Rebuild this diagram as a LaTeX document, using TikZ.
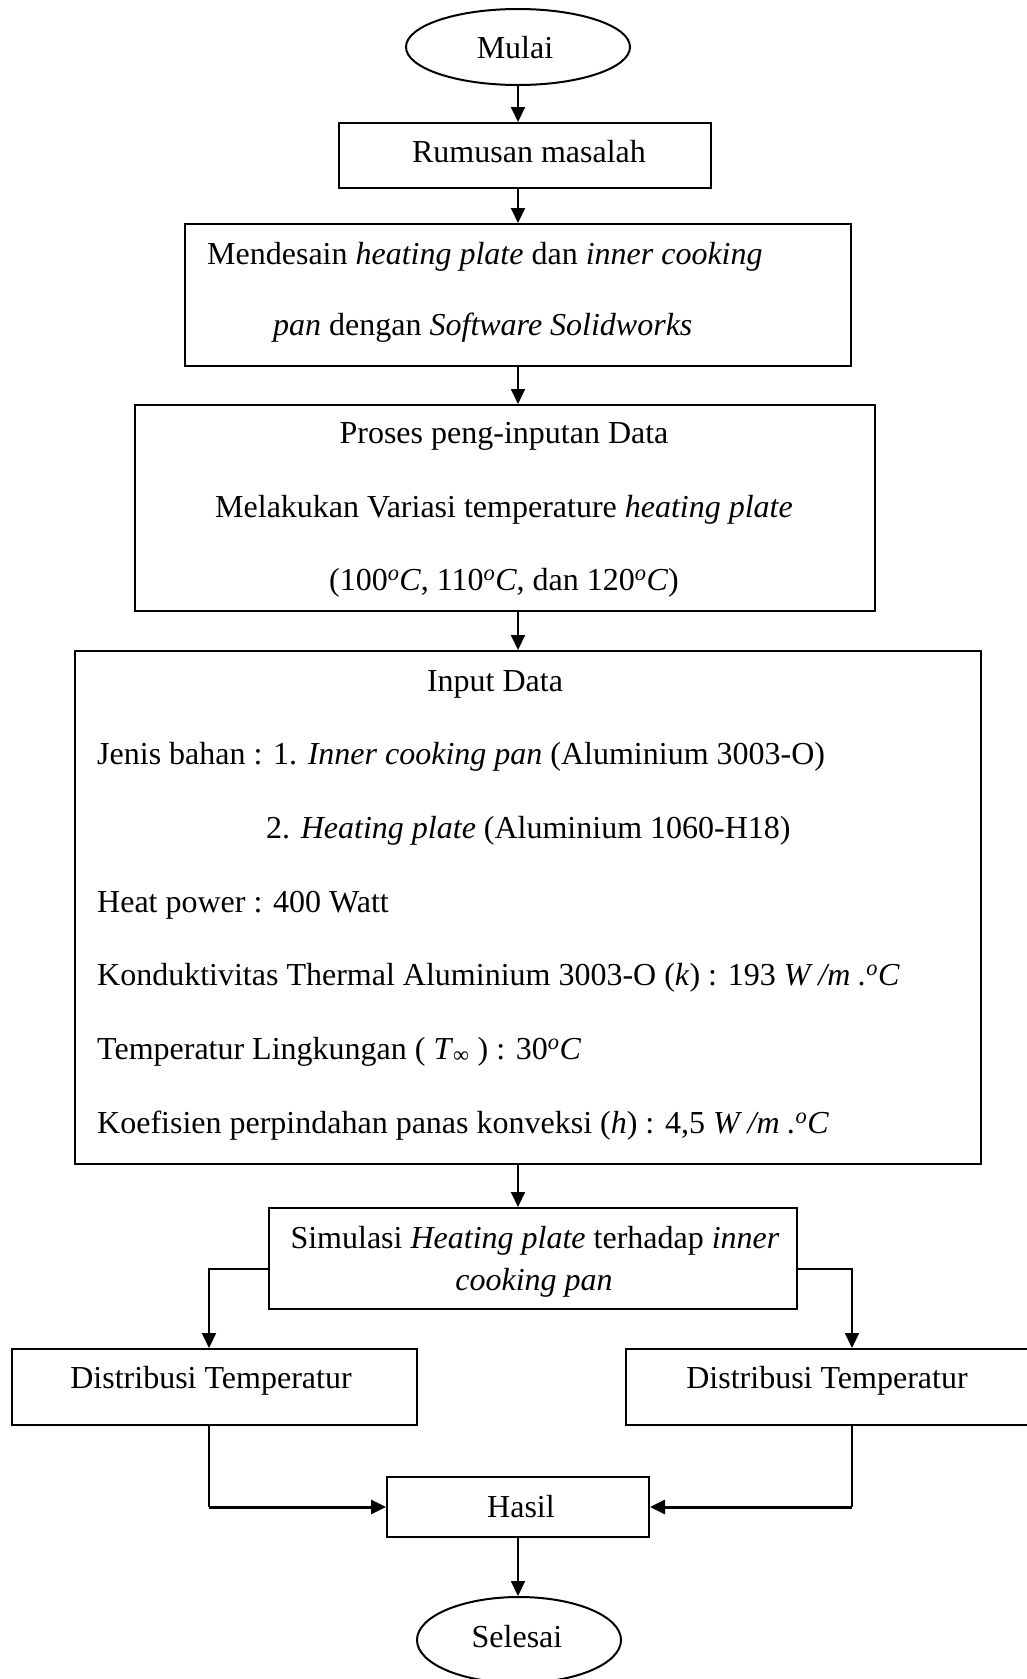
\documentclass[tikz,border=0pt]{standalone}
\usepackage{fontspec}
\setmainfont{Liberation Serif}
\usetikzlibrary{shapes.geometric,arrows.meta}
\begin{document}
\begin{tikzpicture}[x=1pt,y=1pt]
	\tikzstyle{every node}+=[inner sep=0pt]
	\tikzstyle{kotak}=[draw,rectangle,line width=2pt]
	\tikzstyle{oval}=[draw,ellipse,line width=2pt]
	\tikzstyle{teks}=[font=\fontsize{32}{38}\selectfont]
	\tikzstyle{garis}=[line width=2pt]
	\tikzstyle{panah}=[line width=2pt,-{Triangle[length=15pt,width=14pt]}]
	\useasboundingbox (0,0) rectangle (1027,-1679);
	\node [oval,minimum width=224,minimum height=76] (mulai) at (518,-47) {};
	\node [kotak,minimum width=372,minimum height=65] (rumusan) at (525,-155.5) {};
	\node [kotak,minimum width=666,minimum height=142] (desain) at (518,-295) {};
	\node [kotak,minimum width=740,minimum height=206] (proses) at (505,-508) {};
	\node [kotak,minimum width=906,minimum height=513] (data) at (528,-907.5) {};
	\node [kotak,minimum width=528,minimum height=101] (simulasi) at (533,-1258.5) {};
	\node [kotak,minimum width=405,minimum height=76] (distkiri) at (214.5,-1387) {};
	\node [kotak,minimum width=452,minimum height=76] (distkanan) at (852,-1387) {};
	\node [kotak,minimum width=262,minimum height=60] (hasil) at (518,-1507) {};
	\node [oval,minimum width=204,minimum height=86] (selesai) at (519,-1640) {};
	\node [teks,anchor=base] (tmulai) at (515,-58) {Mulai};
	\node [teks,anchor=base] (trumusan) at (529,-162) {Rumusan masalah};
	\node [teks,anchor=base west] (tdesaina) at (207,-264) {Mendesain \textit{heating plate} dan \textit{inner cooking}};
	\node [teks,anchor=base west] (tdesainb) at (273,-335) {\textit{pan} dengan \textit{Software Solidworks}};
	\node [teks,anchor=base] (tprosesa) at (504,-443) {Proses peng-inputan Data};
	\node [teks,anchor=base] (tprosesb) at (504,-517) {Melakukan Variasi temperature \textit{heating plate}};
	\node [teks,anchor=base] (tprosesc) at (504,-590) {(100\textsuperscript{\textit{o}}\textit{C}, 110\textsuperscript{\textit{o}}\textit{C}, dan 120\textsuperscript{\textit{o}}\textit{C})};
	\node [teks,anchor=base] (tdataa) at (495,-691) {Input Data};
	\node [teks,anchor=base west] (tdatab) at (97,-764) {Jenis bahan : 1. \textit{Inner cooking pan} (Aluminium 3003-O)};
	\node [teks,anchor=base west] (tdatac) at (266,-838) {2. \textit{Heating plate} (Aluminium 1060-H18)};
	\node [teks,anchor=base west] (tdatad) at (97,-912) {Heat power : 400 Watt};
	\node [teks,anchor=base west] (tdatae) at (97,-985) {Konduktivitas Thermal Aluminium 3003-O (\textit{k}) : 193 \textit{W /m .}\textsuperscript{\textit{o}}\textit{C}};
	\node [teks,anchor=base west] (tdataf) at (97,-1059) {Temperatur Lingkungan ( \textit{T}\textsubscript{∞} ) : 30\textsuperscript{\textit{o}}\textit{C}};
	\node [teks,anchor=base west] (tdatag) at (97,-1133) {Koefisien perpindahan panas konveksi (\textit{h}) : 4,5 \textit{W /m .}\textsuperscript{\textit{o}}\textit{C}};
	\node [teks,anchor=base] (tsimulasia) at (535,-1248) {Simulasi \textit{Heating plate} terhadap \textit{inner}};
	\node [teks,anchor=base] (tsimulasib) at (534,-1290) {\textit{cooking pan}};
	\node [teks,anchor=base] (tdistkiri) at (211,-1388) {Distribusi Temperatur};
	\node [teks,anchor=base] (tdistkanan) at (827,-1388) {Distribusi Temperatur};
	\node [teks,anchor=base] (thasil) at (521,-1517) {Hasil};
	\node [teks,anchor=base] (tselesai) at (517,-1647) {Selesai};
	\coordinate (kiri) at (209,-1269);
	\coordinate (kanan) at (852,-1269);
	\draw [panah] (mulai.south) -- (mulai.south |- rumusan.north);
	\draw [panah] (rumusan.south -| mulai.south) -- (mulai.south |- desain.north);
	\draw [panah] (desain.south -| mulai.south) -- (mulai.south |- proses.north);
	\draw [panah] (proses.south -| mulai.south) -- (mulai.south |- data.north);
	\draw [panah] (data.south -| mulai.south) -- (mulai.south |- simulasi.north);
	\draw [panah] (simulasi.west |- kiri) -- (kiri) -- (kiri |- distkiri.north);
	\draw [panah] (simulasi.east |- kanan) -- (kanan) -- (kanan |- distkanan.north);
	\draw [garis] (kiri |- distkiri.south) -- (kiri |- hasil.west);
	\draw [panah,line width=3pt] (kiri |- hasil.west) -- (hasil.west);
	\draw [garis] (kanan |- distkanan.south) -- (kanan |- hasil.east);
	\draw [panah,line width=3pt] (kanan |- hasil.east) -- (hasil.east);
	\draw [panah] (hasil.south) -- (hasil.south |- selesai.north);
\end{tikzpicture}
\end{document}
